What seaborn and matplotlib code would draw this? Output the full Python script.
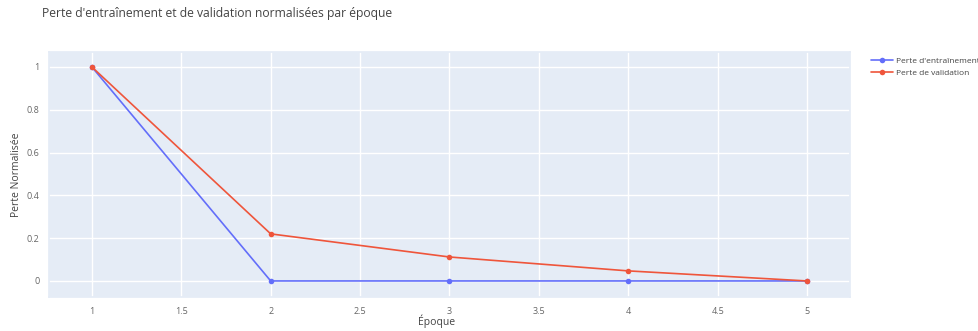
import pandas as pd
import matplotlib
matplotlib.use("Agg")
import matplotlib.pyplot as plt
import seaborn as sns

# Données
epoques = [1, 2, 3, 4, 5]
perte_entrainement = [1.0, 0.0, 0.0, 0.0, 0.0]
perte_validation = [1.0, 0.22, 0.112, 0.047, 0.0]

df = pd.DataFrame({
    "Époque": epoques * 2,
    "Perte": perte_entrainement + perte_validation,
    "Série": ["Perte d'entraînement"] * 5 + ["Perte de validation"] * 5,
})

sns.set_theme(style="darkgrid", rc={
    "axes.facecolor": "#E5ECF6",
    "grid.color": "white",
    "grid.linewidth": 1.0,
    "axes.edgecolor": "#E5ECF6",
})
plt.rcParams["font.family"] = ["Open Sans", "DejaVu Sans"]

fig = plt.figure(figsize=(9.79, 3.31), dpi=100)
ax = fig.add_axes([49 / 979, 1 - 297 / 331, (850 - 49) / 979, (297 - 52) / 331])

palette = {"Perte d'entraînement": "#636EFA", "Perte de validation": "#EF553B"}
sns.lineplot(data=df, x="Époque", y="Perte", hue="Série", palette=palette,
             marker="o", markersize=4, markeredgewidth=0, linewidth=1.2, ax=ax)

ax.set_xlim(0.76, 5.24)
ax.set_ylim(-0.075, 1.07)
ax.set_xticks([1, 1.5, 2, 2.5, 3, 3.5, 4, 4.5, 5])
ax.set_xticklabels(["1", "1.5", "2", "2.5", "3", "3.5", "4", "4.5", "5"])
ax.set_yticks([0, 0.2, 0.4, 0.6, 0.8, 1])
ax.set_yticklabels(["0", "0.2", "0.4", "0.6", "0.8", "1"])
ax.tick_params(axis="both", colors="#666666", labelsize=6.5, length=0, pad=7)
ax.set_xlabel("Époque", color="#444444", fontsize=7.5, va="center")
ax.set_ylabel("Perte Normalisée", color="#444444", fontsize=7.5, va="center")
ax.xaxis.set_label_coords((437 - 49) / (850 - 49), -(321 - 297) / (297 - 52))
ax.yaxis.set_label_coords(-(49 - 17) / (850 - 49), 0.5)

fig.text(42 / 979, 1 - 13 / 331, "Perte d'entraînement et de validation normalisées par époque",
         color="#444444", fontsize=8.7, va="center", ha="left")

leg = ax.legend(loc="upper left", bbox_to_anchor=(1.0225, 0.992), frameon=False,
                fontsize=6.0, handlelength=2.6, handletextpad=0.4,
                labelspacing=0.5, borderaxespad=0, borderpad=0.4)
for t in leg.get_texts():
    t.set_color("#444444")

plt.savefig("out.png", dpi=100)
